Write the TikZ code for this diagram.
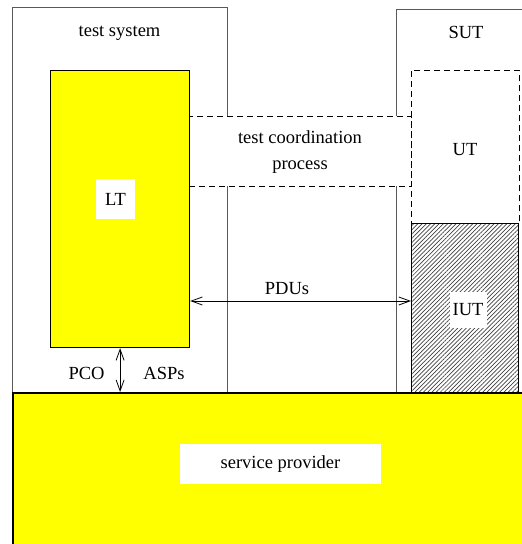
\documentclass[tikz,border=0pt]{standalone}
\usepackage{fontspec}
\setmainfont{Liberation Serif}
\usetikzlibrary{arrows.meta,patterns.meta}
\definecolor{ltyellow}{RGB}{255,255,0}

\begin{document}
\begin{tikzpicture}[x=1pt,y=-1pt,
  frame/.style={draw=gray!70!black,line width=1pt,inner sep=0pt,anchor=north west},
  yellowbox/.style={draw=black,fill=ltyellow,line width=1.2pt,inner sep=0pt,anchor=north west},
  dashbox/.style={draw=black,dash pattern=on 6pt off 4pt,line width=0.9pt,inner sep=0pt,anchor=north west},
  whitelabel/.style={fill=white,inner sep=0pt},
  both/.style={{Straight Barb[length=11pt,width=8pt]}-{Straight Barb[length=11pt,width=8pt]},line width=0.8pt},
  every node/.style={font=\fontsize{18.5}{26}\selectfont}]
\useasboundingbox (0,0) rectangle (522,544);
\clip (0,0) rectangle (522,544);

% frames of the two systems
\node[frame,minimum width=215pt,minimum height=385pt] (sys) at (12,7) {};
\node (syslabel) at (119.5,33) {test system};
\node[frame,minimum width=140pt,minimum height=383pt] (sut) at (396,9) {};
\node (sutlabel) at (466,32) {SUT};

% test coordination process
\node[dashbox,fill=white,minimum width=222pt,minimum height=70pt] (tcp) at (189,116) {};
\node[align=center] (tcplabel) at (300,152) {test coordination\\process};

% upper and lower tester
\node[dashbox,minimum width=108pt,minimum height=153pt] (ut) at (411,70) {};
\node (utlabel) at (465,150) {UT};
\node[draw=black,line width=1.2pt,inner sep=0pt,anchor=north west,
      pattern={Lines[angle=45,distance=3pt,line width=0.7pt]},pattern color=black!75,
      minimum width=107pt,minimum height=169pt] (iut) at (411,223) {};
\node[whitelabel,minimum width=37pt,minimum height=36pt] (iutlabel) at (468,310) {IUT};

\node[yellowbox,minimum width=139pt,minimum height=277pt] (lt) at (50,70) {};
\node[whitelabel,minimum width=39pt,minimum height=40pt] (ltlabel) at (115.5,199) {LT};

% service provider
\node[yellowbox,line width=1.5pt,minimum width=530pt,minimum height=170pt] (sp) at (12,392) {};
\node[whitelabel,minimum width=201pt,minimum height=40pt] (splabel) at (280.5,464) {service provider};

% exchanges
\coordinate (pdu) at (0,301);
\draw[both] (lt.east |- pdu) -- (iut.west |- pdu);
\node (pdulabel) at (287,289) {PDUs};
\draw[both] (lt.south) -- (lt.south |- sp.north);
\node (pcolabel) at (86.5,373) {PCO};
\node (asplabel) at (164,373) {ASPs};
\end{tikzpicture}
\end{document}
